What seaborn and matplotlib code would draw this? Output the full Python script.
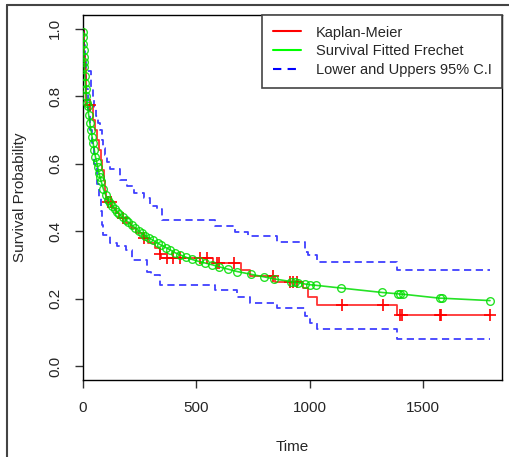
import numpy as np
import seaborn as sns
import matplotlib.pyplot as plt
from matplotlib.lines import Line2D

# Kaplan-Meier step curve (time of each step, survival after the step)
km_time = [0, 3, 6, 9, 12, 15, 45, 55, 62, 70, 78, 85, 92, 98, 103, 130, 145, 160,
           190, 210, 235, 265, 285, 318, 338, 345, 573, 697, 737, 847, 971, 993,
           1032, 1384, 1796]
km_surv = [1.0, 0.96, 0.92, 0.88, 0.84, 0.775, 0.73, 0.70, 0.67, 0.64, 0.61, 0.58,
           0.55, 0.52, 0.488, 0.47, 0.455, 0.44, 0.425, 0.41, 0.395, 0.38, 0.365,
           0.35, 0.333, 0.321, 0.306, 0.286, 0.268, 0.251, 0.233, 0.207, 0.183,
           0.151, 0.151]

# censored times (+ marks)
cens_time = [31, 110, 122, 176, 268, 340, 370, 397, 428, 516, 547, 590, 600, 666,
             840, 913, 927, 944, 1141, 1322, 1399, 1406, 1575, 1582, 1796]

# 95% confidence limits (step curves)
up_time = [0, 4, 8, 13, 35, 42, 50, 57, 66, 75, 82, 90, 97, 105, 119, 165, 195,
           226, 270, 296, 328, 350, 582, 671, 728, 855, 980, 993, 1032, 1384, 1796]
up_surv = [1.0, 0.95, 0.91, 0.875, 0.82, 0.79, 0.765, 0.74, 0.72, 0.70, 0.67, 0.645,
           0.625, 0.605, 0.585, 0.552, 0.533, 0.514, 0.499, 0.475, 0.466, 0.432,
           0.417, 0.399, 0.385, 0.369, 0.340, 0.330, 0.308, 0.286, 0.286]
lo_time = [0, 3, 6, 10, 15, 22, 30, 40, 50, 62, 70, 78, 84, 88, 119, 150, 190, 215,
           282, 300, 340, 582, 680, 737, 855, 980, 1000, 1032, 1386, 1796]
lo_surv = [1.0, 0.95, 0.90, 0.86, 0.82, 0.76, 0.70, 0.66, 0.60, 0.54, 0.50, 0.46,
           0.42, 0.39, 0.366, 0.357, 0.345, 0.316, 0.281, 0.271, 0.242, 0.227, 0.207,
           0.189, 0.173, 0.148, 0.129, 0.111, 0.081, 0.081]

# fitted Frechet survival at observed times
fit_time = [0.5, 1, 2, 3, 4, 5, 6, 8, 10, 12, 15, 18, 20, 25, 30, 35, 40, 45, 50,
            55, 60, 65, 70, 75, 80, 90, 100, 110, 120, 130, 140, 150, 160, 175, 190,
            200, 215, 230, 245, 260, 275, 290, 310, 330, 345, 365, 385, 405, 430,
            455, 480, 510, 540, 570, 600, 640, 680, 740, 800, 845, 920, 935, 950,
            980, 1000, 1030, 1140, 1320, 1390, 1400, 1410, 1575, 1585, 1796]
fit_surv = [0.99, 0.975, 0.955, 0.935, 0.915, 0.90, 0.885, 0.86, 0.84, 0.82, 0.80,
            0.78, 0.77, 0.745, 0.72, 0.70, 0.68, 0.66, 0.64, 0.62, 0.605, 0.59, 0.573,
            0.56, 0.548, 0.525, 0.507, 0.493, 0.485, 0.475, 0.466, 0.458, 0.45, 0.442,
            0.433, 0.427, 0.418, 0.41, 0.402, 0.394, 0.387, 0.381, 0.373, 0.365,
            0.359, 0.352, 0.345, 0.337, 0.33, 0.323, 0.317, 0.311, 0.306, 0.301,
            0.295, 0.288, 0.281, 0.273, 0.265, 0.259, 0.251, 0.249, 0.248, 0.244,
            0.242, 0.240, 0.232, 0.219, 0.215, 0.214, 0.214, 0.202, 0.202, 0.195]

legend_labels = ['Kaplan-Meier', 'Survival Fitted Frechet', 'Lower and Uppers 95% C.I']

sns.set_theme(style='white')
plt.rcParams['font.family'] = ['Liberation Sans', 'DejaVu Sans']

red = '#FF0000'
green = '#00DD00'
blue = '#0000FF'
fs = 11

fig = plt.figure(figsize=(5.1, 4.57), dpi=100)
ax = fig.add_axes([83 / 510, 1 - 380 / 457, (502 - 83) / 510, (380 - 15) / 457])

# confidence limits
for tt, ss in [(up_time, up_surv), (lo_time, lo_surv)]:
    sns.lineplot(x=tt, y=ss, ax=ax, estimator=None, sort=False, color=blue,
                 alpha=0.75, linewidth=1.3, drawstyle='steps-post',
                 linestyle=(0, (4, 2.5)))

# Kaplan-Meier
sns.lineplot(x=km_time, y=km_surv, ax=ax, estimator=None, sort=False, color=red,
             alpha=0.8, linewidth=1.3, drawstyle='steps-post')
idx = np.searchsorted(km_time, cens_time, side='right') - 1
cens_surv = np.array(km_surv)[idx]
sns.scatterplot(x=cens_time, y=cens_surv, ax=ax, marker='+', s=80, color=red,
                linewidth=1.2, zorder=4)

# Frechet fit
sns.lineplot(x=fit_time, y=fit_surv, ax=ax, estimator=None, sort=False,
             color=green, alpha=0.85, linewidth=1.2, marker='o', markersize=5.5,
             markerfacecolor='none', markeredgecolor=green, markeredgewidth=1.0,
             zorder=5)

ax.set_xlim(0, 1849)
ax.set_ylim(-0.04, 1.04)
ax.set_xticks([0, 500, 1000, 1500])
ax.set_yticks([0.0, 0.2, 0.4, 0.6, 0.8, 1.0])
ax.set_yticklabels(['0.0', '0.2', '0.4', '0.6', '0.8', '1.0'], rotation=90,
                   va='center')
ax.tick_params(axis='both', direction='out', length=6, width=1, color='#333333',
               labelsize=fs, pad=9, left=True, bottom=True)
for sp in ax.spines.values():
    sp.set_color('black')
    sp.set_linewidth(1)

ax.set_xlabel('Time', fontsize=fs, labelpad=18)
ax.set_ylabel('Survival Probability', fontsize=fs, labelpad=15)

handles = [Line2D([], [], color=red, lw=1.5),
           Line2D([], [], color='#00FF00', lw=1.5),
           Line2D([], [], color=blue, lw=1.5, linestyle=(0, (4, 3)))]
leg = ax.legend(handles, legend_labels, loc='upper right', borderaxespad=0,
                fancybox=False, framealpha=1, edgecolor='#444444', fontsize=10.5,
                handlelength=1.92, handletextpad=1.03, labelspacing=0.33,
                borderpad=0.72)
leg.get_frame().set_linewidth(1.2)

# outer frame of the picture
fig.add_artist(Line2D([7 / 510, 7 / 510], [0, 1 - 5 / 457], transform=fig.transFigure,
                      color='#444444', lw=1.5))
fig.add_artist(Line2D([7 / 510, 1], [1 - 5 / 457, 1 - 5 / 457], transform=fig.transFigure,
                      color='#444444', lw=1.5))

fig.savefig('out.png', dpi=100)
